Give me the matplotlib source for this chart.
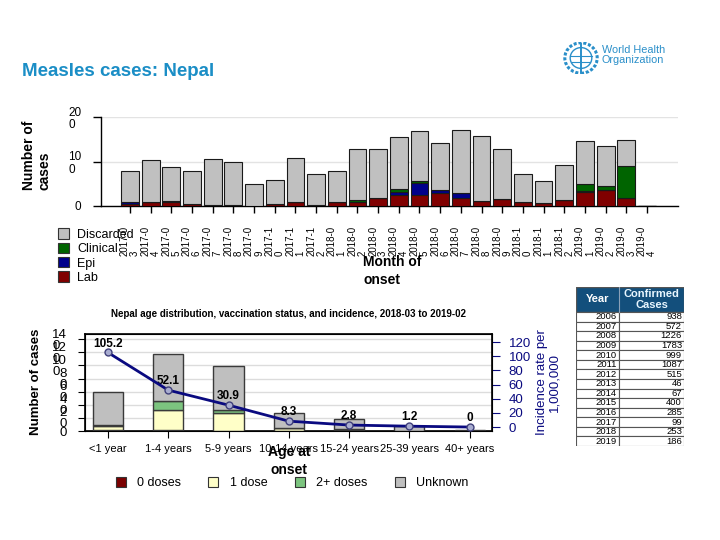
import numpy as np
import matplotlib
matplotlib.use("Agg")
import matplotlib.pyplot as plt
from matplotlib.patches import Rectangle, Ellipse, Patch

plt.rcParams['font.family'] = ['Liberation Sans', 'DejaVu Sans']

# ---- monthly cases (top chart) ----
months = ['2017-03', '2017-04', '2017-05', '2017-06', '2017-07', '2017-08', '2017-09',
          '2017-10', '2017-11', '2017-12', '2018-01', '2018-02', '2018-03', '2018-04',
          '2018-05', '2018-06', '2018-07', '2018-08', '2018-09', '2018-10', '2018-11',
          '2018-12', '2019-01', '2019-02', '2019-03', '2019-04']
lab = [4, 9, 10, 5, 3, 3, 1, 4, 8, 3, 10, 8, 17, 25, 25, 30, 18, 11, 16, 10, 7, 14, 31, 35, 17, 1]
epi = [6, 0, 2, 0, 0, 0, 0, 1, 0, 0, 0, 0, 0, 6, 27, 6, 11, 0, 0, 0, 0, 0, 2, 0, 0, 0]
clinical = [0, 0, 0, 0, 0, 0, 0, 0, 0, 0, 0, 6, 0, 8, 4, 0, 0, 0, 0, 0, 0, 0, 17, 11, 73, 0]
discarded = [69, 95, 75, 74, 103, 95, 49, 54, 100, 69, 69, 114, 110, 115, 113, 105, 141, 147,
             112, 63, 50, 78, 96, 89, 59, 0]

# ---- age distribution (bottom chart) ----
ages = ['<1 year', '1-4 years', '5-9 years', '10-14 years', '15-24 years', '25-39 years', '40+ years']
zero_doses = [2, 2, 0, 0, 1, 0, 0]
one_dose = [6, 30, 27, 4, 2, 0, 0]
two_plus = [1, 14, 5, 0, 0, 0, 0]
unknown = [51, 72, 67, 24, 15, 7, 1]
incidence = [105.2, 52.1, 30.9, 8.3, 2.8, 1.2, 0]

# ---- table ----
years = [2006, 2007, 2008, 2009, 2010, 2011, 2012, 2013, 2014, 2015, 2016, 2017, 2018, 2019]
confirmed = [938, 572, 1226, 1783, 999, 1087, 515, 46, 67, 400, 285, 99, 253, 186]

C_LAB = '#800000'
C_EPI = '#00008b'
C_CLIN = '#006400'
C_DISC = '#c0c0c0'
C_0D = '#7a0000'
C_1D = '#ffffc8'
C_2D = '#7cc47f'
C_UNK = '#bfbfbf'
NAVY = '#0a0a80'
WHO = '#2a8fc9'

W, H = 720, 540
fig = plt.figure(figsize=(7.2, 5.4), dpi=100)


def fx(px):
    return px / W


def fy(py):
    return 1 - py / H


# title + logo
fig.text(fx(22), fy(72), "Measles cases: Nepal", fontsize=13.5, fontweight='bold',
         color='#1b8ec6', ha='left', va='center')
fig.text(fx(602), fy(55), "World Health\nOrganization", fontsize=7.8, color=WHO,
         ha='left', va='center', linespacing=1.0)
lax = fig.add_axes([fx(563), fy(74), fx(36), (74 - 42) / H])
lax.set_xlim(-1, 1)
lax.set_ylim(-1, 1)
lax.axis('off')
lax.add_patch(Ellipse((0, 0), 1.8, 1.9, fill=False, ec=WHO, lw=2.2, ls=(0, (1, 0.6))))
lax.add_patch(Ellipse((0, 0), 1.2, 1.3, fill=False, ec=WHO, lw=1.0))
lax.plot([0, 0], [-0.85, 0.85], color=WHO, lw=1.4)
lax.plot([-0.6, 0.6], [0.1, 0.1], color=WHO, lw=0.8)
lax.plot([-0.5, 0.5], [-0.25, -0.25], color=WHO, lw=0.8)

# ---------------- top chart ----------------
ax = fig.add_axes([fx(101), fy(206), fx(678) - fx(101), (206 - 117) / H])
x = np.arange(len(months))
bw = 0.86
b1 = np.array(lab)
b2 = b1 + np.array(epi)
b3 = b2 + np.array(clinical)
ax.bar(x, lab, bw, color=C_LAB, edgecolor='#1a1a1a', lw=0.8, zorder=3)
ax.bar(x, epi, bw, bottom=b1, color=C_EPI, edgecolor='#1a1a1a', lw=0.8, zorder=3)
ax.bar(x, clinical, bw, bottom=b2, color=C_CLIN, edgecolor='#1a1a1a', lw=0.8, zorder=3)
ax.bar(x, discarded, bw, bottom=b3, color=C_DISC, edgecolor='#1a1a1a', lw=0.8, zorder=3)
ax.set_xlim(-1.4, 26.5)
ax.set_ylim(0, 200)
ax.set_yticks([0, 100, 200])
ax.set_yticklabels(['0', '10\n0', '20\n0'], fontsize=8.5, linespacing=1.1,
                   multialignment='left')
ax.set_xticks(x)
ax.set_xticklabels([m[:6] + '\n' + m[6:] for m in months], rotation=90, fontsize=7,
                   linespacing=1.0, multialignment='left')
ax.tick_params(axis='y', length=6, pad=8, width=1)
ax.tick_params(axis='x', length=5, pad=9, width=1)
ax.grid(axis='y', color='#e3e3e3', lw=1, zorder=0)
for s in ['top', 'right']:
    ax.spines[s].set_visible(False)
for s in ['left', 'bottom']:
    ax.spines[s].set_linewidth(1)
fig.text(fx(37), fy(190), "Number of\ncases", rotation=90, fontsize=10, fontweight='bold',
         ha='center', va='bottom', multialignment='left', linespacing=1.1)
fig.text(fx(363), fy(271), "Month of\nonset", fontsize=10, fontweight='bold',
         ha='left', va='center', linespacing=1.3)

handles = [Patch(fc=C_DISC, ec='#333333', lw=0.8, label='Discarded'),
           Patch(fc=C_CLIN, ec='#333333', lw=0.8, label='Clinical'),
           Patch(fc=C_EPI, ec='#333333', lw=0.8, label='Epi'),
           Patch(fc=C_LAB, ec='#333333', lw=0.8, label='Lab')]
fig.legend(handles=handles, loc='upper left', bbox_to_anchor=(fx(52), fy(222)), frameon=False,
           fontsize=9, handlelength=0.9, handleheight=0.9, labelspacing=0.15,
           handletextpad=0.6, borderpad=0)

# ---------------- bottom chart ----------------
ax2 = fig.add_axes([fx(85), fy(431), fx(492) - fx(85), (431 - 334) / H])
xa = np.arange(len(ages))
aw = 0.5
s1 = np.array(zero_doses)
s2 = s1 + np.array(one_dose)
s3 = s2 + np.array(two_plus)
ec = '#3a3a3a'
ax2.bar(xa, zero_doses, aw, color=C_0D, edgecolor=ec, lw=1, zorder=3)
ax2.bar(xa, one_dose, aw, bottom=s1, color=C_1D, edgecolor=ec, lw=1, zorder=3)
ax2.bar(xa, two_plus, aw, bottom=s2, color=C_2D, edgecolor=ec, lw=1, zorder=3)
ax2.bar(xa, unknown, aw, bottom=s3, color=C_UNK, edgecolor=ec, lw=1, zorder=3)
ax2.set_xlim(-0.38, 6.37)
ax2.set_ylim(0, 148)
yt = np.arange(0, 141, 20)
ax2.set_yticks(yt)
ax2.set_yticklabels(['0'] + [f"{v // 10}\n0" for v in yt[1:]], fontsize=9.5,
                    linespacing=0.9, multialignment='left')
ax2.tick_params(axis='y', length=5, pad=8)
ax2.set_xticks(xa)
ax2.set_xticklabels(ages, fontsize=8)
ax2.tick_params(axis='x', length=5, pad=4)
ax2.grid(axis='y', color='#dcdcdc', lw=1, zorder=0)
for s in ax2.spines.values():
    s.set_linewidth(1.2)
ax2.set_title("Nepal age distribution, vaccination status, and incidence, 2018-03 to 2019-02",
              fontsize=7, fontweight='bold', pad=12)
fig.text(fx(36), fy(382), "Number of cases", rotation=90, fontsize=9.5, fontweight='bold',
         ha='center', va='center')
fig.text(fx(289), fy(461), "Age at\nonset", fontsize=10, fontweight='bold',
         ha='center', va='center', linespacing=1.3)

ax3 = ax2.twinx()
ax3.plot(xa, incidence, color=NAVY, lw=2, marker='o', ms=5, mfc='#a8acd0', mec='#40407a',
         mew=1, zorder=5)
for xi, v in zip(xa, incidence):
    ax3.annotate(f"{v:g}", (xi, v), xytext=(0, 2), textcoords='offset points',
                 ha='center', va='bottom', fontsize=8.5, fontweight='bold')
ax3.set_ylim(-5.6, 131.3)
ax3.set_yticks(np.arange(0, 121, 20))
ax3.tick_params(axis='y', colors=NAVY, labelsize=9.5, length=6, pad=6)
ax3.spines['right'].set_color('black')
ax3.set_ylabel("Incidence rate per\n1,000,000", color=NAVY, fontsize=9.5, linespacing=1.0,
               labelpad=4)

leg_h = [Patch(fc=C_0D, ec='#333333', lw=0.8, label='0 doses'),
         Patch(fc=C_1D, ec='#333333', lw=0.8, label='1 dose'),
         Patch(fc=C_2D, ec='#333333', lw=0.8, label='2+ doses'),
         Patch(fc=C_UNK, ec='#333333', lw=0.8, label='Unknown')]
fig.legend(handles=leg_h, loc='center', bbox_to_anchor=(fx(292), fy(483)), ncol=4,
           frameon=False, fontsize=9, handlelength=0.8, handleheight=0.8,
           handletextpad=0.9, columnspacing=2.2)

# ---------------- table ----------------
tx0, tx1, tsep = 576, 684, 619
ty0, thead, ty1 = 287, 312, 446
tax = fig.add_axes([fx(tx0), fy(ty1), fx(tx1 - tx0), (ty1 - ty0) / H])
tax.set_xlim(tx0, tx1)
tax.set_ylim(ty1, ty0)
tax.axis('off')
tax.add_patch(Rectangle((tx0, ty0), tx1 - tx0, thead - ty0, fc='#134f7c', ec='#555555', lw=1))
tax.plot([tsep, tsep], [ty0, thead], color='#8aa0b8', lw=0.8)
tax.text((tx0 + tsep) / 2, (ty0 + thead) / 2, "Year", color='white', fontsize=8,
         fontweight='bold', ha='center', va='center')
tax.text((tsep + tx1) / 2, (ty0 + thead) / 2, "Confirmed\nCases", color='#e8f6ff', fontsize=8,
         fontweight='bold', ha='center', va='center', linespacing=1.1)
rh = (ty1 - thead) / len(years)
for i, (yr, c) in enumerate(zip(years, confirmed)):
    y0 = thead + i * rh
    tax.add_patch(Rectangle((tx0, y0), tsep - tx0, rh, fc='white', ec='#555555', lw=0.8))
    tax.add_patch(Rectangle((tsep, y0), tx1 - tsep, rh, fc='white', ec='#555555', lw=0.8))
    tax.text(tsep - 2, y0 + rh / 2, str(yr), fontsize=6.8, ha='right', va='center')
    tax.text(tx1 - 2, y0 + rh / 2, str(c), fontsize=6.8, ha='right', va='center')

fig.savefig("out.png", dpi=100)
